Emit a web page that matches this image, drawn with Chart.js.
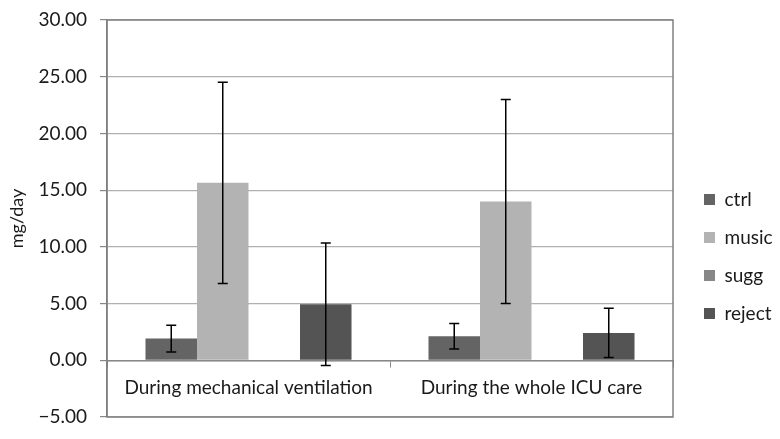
<!DOCTYPE html>
<html>
<head>
<meta charset="utf-8">
<script src="https://cdn.jsdelivr.net/npm/chart.js@4/dist/chart.umd.min.js"></script>
<style>
  html, body { margin: 0; padding: 0; background: #ffffff; }
  #wrap { width: 780px; height: 439px; }
</style>
</head>
<body>
<div id="wrap"><canvas id="c" width="780" height="439"></canvas></div>
<script>
const categories = ["During mechanical ventilation", "During the whole ICU care"];
const seriesNames = ["ctrl", "music", "sugg", "reject"];
const ctrlValues = [1.91, 2.12];
const ctrlErrors = [1.18, 1.12];
const musicValues = [15.65, 14.0];
const musicErrors = [8.87, 9.0];
const suggValues = [0, 0];
const suggErrors = [null, null];
const rejectValues = [4.94, 2.41];
const rejectErrors = [5.4, 2.17];
const yTicks = [-5, 0, 5, 10, 15, 20, 25, 30];
const yTitle = "mg/day";

const colors = ["#646464", "#b3b3b3", "#878787", "#545454"];
const FONT = "Lato, 'Open Sans', sans-serif";

const errorBarPlugin = {
  id: 'errorBars',
  afterDatasetsDraw(chart) {
    const ctx = chart.ctx;
    const yScale = chart.scales.y;
    ctx.save();
    ctx.strokeStyle = '#000000';
    ctx.lineWidth = 1.5;
    chart.data.datasets.forEach((ds, i) => {
      const meta = chart.getDatasetMeta(i);
      ds.errors.forEach((e, j) => {
        if (e === null || e === undefined) return;
        const bar = meta.data[j];
        const x = bar.x;
        const v = ds.data[j];
        const yTop = yScale.getPixelForValue(v + e);
        const yBot = yScale.getPixelForValue(v - e);
        ctx.beginPath();
        ctx.moveTo(x, yTop); ctx.lineTo(x, yBot);
        ctx.moveTo(x - 5, yTop); ctx.lineTo(x + 5, yTop);
        ctx.moveTo(x - 5, yBot); ctx.lineTo(x + 5, yBot);
        ctx.stroke();
      });
    });
    ctx.restore();
  }
};

const frameAndLegendPlugin = {
  id: 'frameAndLegend',
  afterLayout(chart) {
    if (chart.legend) {
      chart.legend.left += 12;
      chart.legend.right += 12;
      chart.legend.top += 38;
      chart.legend.bottom += 38;
    }
  },
  afterDraw(chart) {
    const a = chart.chartArea;
    const ctx = chart.ctx;
    ctx.save();
    ctx.strokeStyle = '#808080';
    ctx.lineWidth = 1.5;
    ctx.strokeRect(a.left, a.top, a.right - a.left, a.bottom - a.top);
    ctx.restore();
  }
};

const legendFitPlugin = {
  id: 'legendFit',
  beforeInit(chart) {
    const origFit = chart.legend.fit;
    chart.legend.fit = function () {
      origFit.call(this);
      this.width = 107;
    };
  }
};

new Chart(document.getElementById('c'), {
  type: 'bar',
  data: {
    labels: categories,
    datasets: [
      { label: seriesNames[0], data: ctrlValues, errors: ctrlErrors, backgroundColor: colors[0] },
      { label: seriesNames[1], data: musicValues, errors: musicErrors, backgroundColor: colors[1] },
      { label: seriesNames[2], data: suggValues, errors: suggErrors, backgroundColor: colors[2] },
      { label: seriesNames[3], data: rejectValues, errors: rejectErrors, backgroundColor: colors[3] }
    ]
  },
  options: {
    responsive: false,
    animation: false,
    devicePixelRatio: 1,
    layout: { padding: { top: 20, bottom: 22, left: 0, right: 0 } },
    datasets: { bar: { barPercentage: 1.0, categoryPercentage: 0.728, borderWidth: 0 } },
    plugins: {
      legend: {
        position: 'right',
        align: 'center',
        labels: {
          boxWidth: 11,
          boxHeight: 11,
          padding: 19,
          color: '#1a1a1a',
          font: { family: FONT, size: 19 }
        }
      },
      tooltip: { enabled: false }
    },
    scales: {
      x: {
        position: { y: 0 },
        offset: true,
        grid: { display: true, drawOnChartArea: false, drawTicks: true, tickLength: 6, color: '#888888', offset: true },
        border: { display: true, color: '#888888', width: 1.5 },
        ticks: { color: '#1a1a1a', padding: 10, font: { family: FONT, size: 19 }, maxRotation: 0 }
      },
      y: {
        min: -5,
        max: 30,
        afterFit(scale) { scale.width = 107; scale.paddingTop = 0; scale.paddingBottom = 0; },
        afterBuildTicks(scale) { scale.ticks = yTicks.map(v => ({ value: v })); },
        grid: { color: '#b0b0b0', lineWidth: 1.2, tickLength: 7, tickColor: '#888888' },
        border: { display: true, color: '#808080', width: 1.5 },
        ticks: {
          color: '#1a1a1a',
          padding: 13,
          font: { family: FONT, size: 19 },
          callback: (v) => (v < 0 ? '\u2212' + Math.abs(v).toFixed(2) : v.toFixed(2))
        },
        title: {
          display: true,
          text: yTitle,
          color: '#1a1a1a',
          font: { family: FONT, size: 18 },
          padding: { top: 6, bottom: 0 }
        }
      }
    }
  },
  plugins: [errorBarPlugin, frameAndLegendPlugin, legendFitPlugin]
});
</script>
</body>
</html>
